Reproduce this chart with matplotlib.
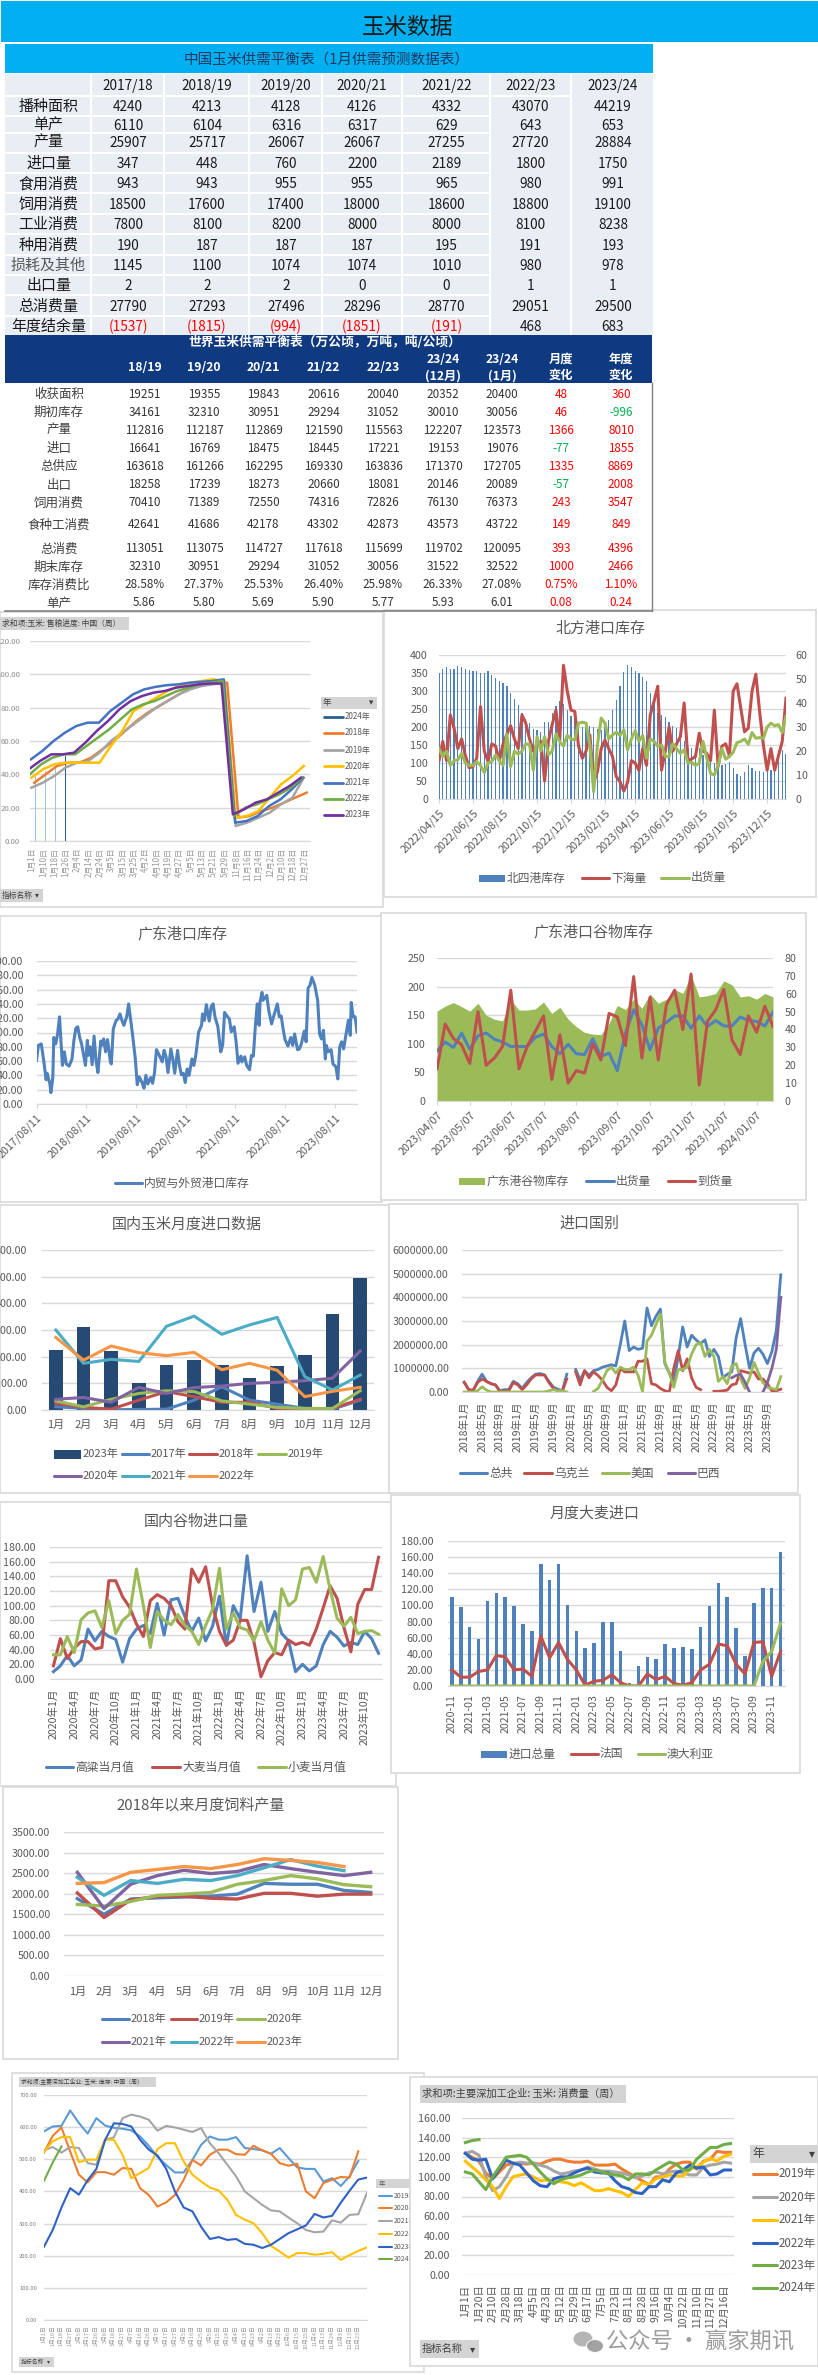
import numpy as np
import matplotlib
matplotlib.use('Agg')
import matplotlib.pyplot as plt
from matplotlib.patches import Rectangle, Ellipse

plt.rcParams['font.family'] = ['Noto Sans CJK SC', 'DejaVu Sans']

nan = float('nan')
W, H = 818, 2375

# 中国玉米供需平衡表
t1_years = ['2017/18', '2018/19', '2019/20', '2020/21', '2021/22', '2022/23', '2023/24']
t1_names = ['播种面积', '单产', '产量', '进口量', '食用消费', '饲用消费', '工业消费', '种用消费',
            '损耗及其他', '出口量', '总消费量', '年度结余量']
t1_rows = [
    ['4240', '4213', '4128', '4126', '4332', '43070', '44219'],
    ['6110', '6104', '6316', '6317', '629', '643', '653'],
    ['25907', '25717', '26067', '26067', '27255', '27720', '28884'],
    ['347', '448', '760', '2200', '2189', '1800', '1750'],
    ['943', '943', '955', '955', '965', '980', '991'],
    ['18500', '17600', '17400', '18000', '18600', '18800', '19100'],
    ['7800', '8100', '8200', '8000', '8000', '8100', '8238'],
    ['190', '187', '187', '187', '195', '191', '193'],
    ['1145', '1100', '1074', '1074', '1010', '980', '978'],
    ['2', '2', '2', '0', '0', '1', '1'],
    ['27790', '27293', '27496', '28296', '28770', '29051', '29500'],
    ['(1537)', '(1815)', '(994)', '(1851)', '(191)', '468', '683'],
]

# 世界玉米供需平衡表
t2_cols = ['18/19', '19/20', '20/21', '21/22', '22/23', '23/24\n(12月)', '23/24\n(1月)', '月度\n变化', '年度\n变化']
t2_names = ['收获面积', '期初库存', '产量', '进口', '总供应', '出口', '饲用消费', '食种工消费', '总消费',
            '期末库存', '库存消费比', '单产']
t2_rows = [
    ['19251', '19355', '19843', '20616', '20040', '20352', '20400', '48', '360'],
    ['34161', '32310', '30951', '29294', '31052', '30010', '30056', '46', '-996'],
    ['112816', '112187', '112869', '121590', '115563', '122207', '123573', '1366', '8010'],
    ['16641', '16769', '18475', '18445', '17221', '19153', '19076', '-77', '1855'],
    ['163618', '161266', '162295', '169330', '163836', '171370', '172705', '1335', '8869'],
    ['18258', '17239', '18273', '20660', '18081', '20146', '20089', '-57', '2008'],
    ['70410', '71389', '72550', '74316', '72826', '76130', '76373', '243', '3547'],
    ['42641', '41686', '42178', '43302', '42873', '43573', '43722', '149', '849'],
    ['113051', '113075', '114727', '117618', '115699', '119702', '120095', '393', '4396'],
    ['32310', '30951', '29294', '31052', '30056', '31522', '32522', '1000', '2466'],
    ['28.58%', '27.37%', '25.53%', '26.40%', '25.98%', '26.33%', '27.08%', '0.75%', '1.10%'],
    ['5.86', '5.80', '5.69', '5.90', '5.77', '5.93', '6.01', '0.08', '0.24'],
]

# 售粮进度
c1_dates = ['1月1日', '1月10日', '1月18日', '1月26日', '2月4日', '2月14日', '2月24日', '3月5日', '3月15日', '3月25日',
            '4月2日', '4月10日', '4月19日', '4月27日', '5月5日', '5月13日', '5月21日', '5月29日', '11月8日', '11月16日',
            '11月24日', '12月2日', '12月10日', '12月18日', '12月27日']
c1_2024 = [40, 42, 46, 51]
c1_2018 = [35, 40, 45, 47, 47, 50, 55, 60, 66, 72, 77, 81, 85, 89, 92, 94, 95, 95, 14, 15, 18, 20, 23, 26, 29]
c1_2019 = [32, 35, 39, 44, 47, 48, 53, 60, 65, 70, 75, 80, 84, 88, 91, 93, 94, 95, 9, 11, 14, 17, 22, 26, 38]
c1_2020 = [38, 43, 46, 47, 47, 47, 47, 57, 66, 78, 82, 86, 90, 93, 95, 96, 97, 96, 14, 15, 18, 26, 34, 39, 45]
c1_2021 = [49, 54, 60, 65, 69, 71, 71, 78, 83, 88, 91, 92.5, 93.5, 94, 95, 95.5, 96, 97, 11, 12, 15, 21, 25, 31, 38]
c1_2022 = [40, 46, 50, 52, 52, 57, 62, 67, 73, 79, 82, 84, 87, 90, 92, 94, 95, 96, 15, 20, 22, 25, 28, 32, 38]
c1_2023 = [43, 48, 52, 52, 53, 59, 66, 72, 79, 84, 87, 89, 90, 92, 93, 94, 94.5, 94.5, 16, 19, 23, 25, 29, 33, 38]

# 北方港口库存
c2_dates = ['2022/04/15', '2022/06/15', '2022/08/15', '2022/10/15', '2022/12/15', '2023/02/15', '2023/04/15',
            '2023/06/15', '2023/08/15', '2023/10/15', '2023/12/15']
c2_date_pos = [0, 9, 17, 26, 35, 44, 52, 61, 70, 78, 87]
c2_stock = [350, 362, 367, 362, 362, 370, 367, 362, 358, 356, 356, 351, 351, 356, 345, 336, 329, 322, 315, 294,
            278, 262, 240, 222, 210, 195, 192, 186, 215, 215, 238, 257, 271, 264, 248, 231, 225, 200, 201,
            206, 203, 199, 195, 192, 213, 220, 248, 276, 315, 353, 371, 366, 356, 350, 338, 329, 294, 271, 240,
            234, 229, 213, 203, 197, 187, 161, 141, 141, 113, 143, 122, 132, 109, 99, 97, 95, 97, 102, 87,
            70, 64, 76, 95, 87, 78, 78, 74, 78, 81, 81, 108, 136, 125]
c2_down = [16, 24, 16, 35, 29.5, 21, 25, 18, 13, 13.5, 17, 38.5, 20, 15.6, 23, 22, 16, 23, 27, 30.5,
           25, 21, 35, 31.6, 25, 20, 22.5, 24, 7.5, 24, 31, 37, 24.6, 55.7, 45, 37, 36.5, 22, 17, 20,
           26.7, 7, 11.4, 21, 24.6, 21, 17.7, 9.3, 7.2, 3.3, 7, 16, 15, 12, 21, 14, 35, 40.6, 47, 12,
           20, 30, 20, 23, 26, 40, 16, 16.7, 17.7, 27.4, 20, 19, 16, 37, 13.5, 22, 23, 18, 45, 48,
           38, 28, 29.5, 45, 52, 36.5, 22.5, 12, 21, 12, 18, 24, 42]
c2_out = [21, 17.7, 20, 14, 16, 16.3, 19, 15, 14, 14, 15.6, 14, 11, 15, 15.6, 18.4, 16, 14, 27, 13.5,
          20, 18.7, 20, 23, 22.8, 12, 26, 20, 26, 18.4, 20, 27, 24, 22, 26.5, 25, 24.6, 31.6, 32, 31.6,
          22.5, 3, 22.5, 33.7, 31.6, 25, 26.7, 27.8, 26.5, 28.8, 20.5, 25, 28.4, 24, 26.5, 17, 25, 24, 22, 22.5,
          17.7, 17.7, 23, 21, 19, 20.5, 15, 15.3, 14, 15, 24, 17, 10.7, 10, 14, 21, 16.6, 17.7, 19.5, 23.5,
          24, 25, 22.8, 27.7, 25.3, 25.6, 25.3, 30, 31.6, 30.5, 31, 27.7, 34.4]

# 广东港口库存
c3_dates = ['2017/08/11', '2018/08/11', '2019/08/11', '2020/08/11', '2021/08/11', '2022/08/11', '2023/08/11']
c3_date_pos = [0, 52, 104, 156, 207, 259, 311]
c3_week = [0, 2, 5, 8, 10, 11, 14, 15, 17, 18, 20, 22, 24, 26, 27, 29, 31, 34, 37, 39, 41, 43, 45, 47, 51, 53, 54, 56,
           58, 60, 62, 64, 67, 68, 70, 72, 74, 77, 78, 80, 83, 85, 87, 89, 91, 94, 96, 98, 100, 103, 105, 107, 110,
           112, 114, 116, 119, 121, 123, 125, 128, 131, 133, 135, 137, 140, 142, 144, 147, 149, 151, 153, 155, 157,
           159, 162, 164, 166, 169, 172, 173, 175, 177, 180, 182, 184, 186, 189, 192, 194, 196, 198, 201, 203, 206,
           208, 210, 213, 214, 217, 219, 222, 224, 226, 228, 230, 232, 233, 235, 236, 240, 242, 245, 247, 251, 253,
           255, 257, 259, 262, 265, 267, 269, 272, 274, 276, 279, 281, 283, 285, 287, 290, 293, 295, 297, 299, 301,
           302, 304, 307, 309, 312, 314, 316, 318, 320, 323, 325, 327, 328, 330, 332, 334]
c3_stock = [61, 82, 84, 56, 34, 43, 28, 16, 37, 93, 84, 98, 122, 75, 54, 73, 56, 53, 63, 89, 106, 108, 93, 84, 54, 89, 68, 80,
            55, 95, 61, 44, 88, 82, 91, 73, 90, 59, 56, 105, 117, 119, 126, 117, 110, 122, 140, 119, 98, 63, 27, 38, 30,
            22, 40, 28, 37, 29, 44, 76, 68, 59, 75, 66, 44, 77, 63, 43, 75, 54, 41, 43, 30, 49,
            40, 63, 54, 68, 101, 110, 126, 117, 139, 116, 136, 140, 122, 108, 73, 82, 128, 124, 119, 101, 108,
            87, 57, 67, 59, 66, 54, 48, 68, 67, 108, 140, 110, 143, 156, 145, 152, 131, 112, 122, 140, 122,
            123, 105, 90, 81, 93, 82, 98, 76, 77, 84, 102, 87, 162, 166, 177, 166, 145, 98, 91, 103, 63,
            82, 73, 76, 56, 52, 35, 80, 87, 77, 101, 117, 96, 142, 122, 122, 101]

# 广东港口谷物库存
c4_dates = ['2023/04/07', '2023/05/07', '2023/06/07', '2023/07/07', '2023/08/07', '2023/09/07', '2023/10/07',
            '2023/11/07', '2023/12/07', '2024/01/07']
c4_date_pos = [0, 4, 9, 13, 17, 22, 26, 31, 35, 39]
c4_stock = [157, 166, 172, 165, 157, 171, 150, 143, 140, 177, 159, 159, 161, 173, 153, 164, 143, 130, 120, 117, 116,
            136, 167, 160, 178, 162, 187, 171, 178, 195, 188, 220, 182, 184, 188, 210, 203, 182, 184, 178, 188, 182]
c4_out = [28, 33, 30, 38, 29, 36.5, 38, 34.6, 33, 30.5, 30.5, 30.5, 35.7, 37.4, 30.5, 26.4, 31.8, 26.4, 26, 34.8, 25,
          26.8, 17, 38, 51, 42.6, 28.6, 40.7, 44, 47.6, 47.6, 40.7, 47.6, 41.7, 45, 42, 42, 47, 45, 44.5, 42, 49.7]
c4_in = [18, 43, 35, 31.4, 21, 50, 20, 24, 30.5, 62, 18, 30.5, 39, 47.6, 12, 37, 10, 17, 15.6, 32, 23,
         49, 47, 31, 69.6, 24, 58, 23, 54, 62, 40, 71, 9, 44.5, 51, 62.5, 34, 26, 47.6, 38.5, 53, 41.7]

# 国内玉米月度进口数据
months = ['1月', '2月', '3月', '4月', '5月', '6月', '7月', '8月', '9月', '10月', '11月', '12月']
c5_2023 = [225, 310, 221, 101, 169, 187, 169, 120, 165, 206, 360, 494]
c5_2017 = [12, 6, 1, 2, 3, 37, 87, 37, 22, 6, 3, 37]
c5_2018 = [25, 10, 3, 37, 69, 50, 29, 29, 6, 3, 6, 40]
c5_2019 = [34, 12, 40, 62, 72, 69, 34, 22, 10, 6, 6, 72]
c5_2020 = [40, 47, 29, 85, 62, 84, 90, 100, 104, 110, 119, 221]
c5_2021 = [300, 175, 190, 182, 314, 352, 284, 319, 347, 125, 75, 131]
c5_2022 = [272, 187, 240, 215, 204, 216, 151, 175, 149, 50, 70, 85]

# 进口国别 (百万)
c6_ticks = ['2018年1月', '2018年5月', '2018年9月', '2019年1月', '2019年5月', '2019年9月', '2020年1月', '2020年5月', '2020年9月',
            '2021年1月', '2021年5月', '2021年9月', '2022年1月', '2022年5月', '2022年9月', '2023年1月', '2023年5月', '2023年9月']
c6_total = [.40, .10, .05, .45, .75, .45, .35, .30, .05, .10, .10, .45,
            .35, .15, .40, .60, .75, .78, .72, .45, .20, .12, .05, .75,
            nan, .95, .50, .90, .70, .90, .95, 1.05, 1.10, 1.15, 1.10, 2.00,
            3.00, 1.75, 1.90, 1.80, 1.85, 3.55, 2.80, 3.20, 3.50, 1.20, .80, .40,
            1.50, 2.75, 1.90, 2.40, 2.20, 2.05, 2.20, 1.50, 1.80, 1.50, .60, .75,
            .85, 2.30, 3.10, 2.00, 1.00, 1.65, 1.85, 1.60, 1.20, 1.70, 2.60, 4.95]
c6_ukr = [.42, .10, .08, .40, .55, .45, .35, .30, .02, .05, .05, .40,
          .30, .10, .30, .55, .72, .72, .72, .40, .15, .05, .02, .55,
          nan, .85, .30, .90, .60, .85, .70, .50, .20, .05, .30, 1.00,
          .85, .85, .85, 1.30, 1.30, 1.40, .35, .30, .15, .05, .00, 1.00,
          1.75, .90, 1.40, .60, .20, .10, nan, nan, .03, .03, .05, .08,
          .30, .35, .90, .85, .80, .85, .55, .55, .35, .05, .05, .12]
c6_usa = [0, 0, 0, .05, .22, .08, 0, 0, 0, 0, 0, 0,
          0, 0, 0, 0, 0, 0, 0, .05, .10, .05, .05, 0,
          nan, nan, nan, nan, nan, .02, .15, .50, .90, 1.05, .80, 1.05,
          .95, .95, 1.05, .70, 0, 2.15, 2.40, 2.85, 3.30, 1.25, .80, .20,
          .95, .95, 1.05, 1.60, 2.00, 2.10, 1.50, 1.80, 1.50, .45, .65, .35,
          1.10, 1.20, .55, .15, .60, 1.25, .80, .40, .20, .15, .10, .65]
c6_bra = [nan] * 60 + [.60, .70, .75, .40, 0, nan, nan, 0, .40, 1.00, 1.80, 4.00]

# 国内谷物进口量
c7_ticks = ['2020年1月', '2020年4月', '2020年7月', '2020年10月', '2021年1月', '2021年4月', '2021年7月', '2021年10月',
            '2022年1月', '2022年4月', '2022年7月', '2022年10月', '2023年1月', '2023年4月', '2023年7月', '2023年10月']
c7_sorghum = [10, 18, 32, 18, 26, 68, 52, 65, 58, 54, 23, 55, 68, 73, 62, 103, 60, 108, 110, 85, 65, 83, 52, 72,
              113, 46, 100, 82, 168, 92, 132, 65, 92, 62, 52, 10, 20, 11, 18, 47, 65, 57, 45, 50, 47, 65, 55, 35]
c7_barley = [18, 55, 28, 42, 51, 51, 41, 43, 134, 134, 112, 98, 75, 58, 107, 115, 110, 100, 78, 68, 150, 132, 153, 100,
             65, 46, 53, 80, 80, 50, 3, 25, 36, 33, 53, 47, 50, 46, 68, 97, 127, 110, 70, 37, 102, 122, 122, 166]
c7_wheat = [33, 33, 58, 36, 81, 90, 93, 70, 107, 62, 80, 88, 150, 100, 43, 92, 80, 74, 88, 73, 65, 47, 73, 95,
            151, 68, 90, 70, 67, 52, 78, 53, 35, 123, 100, 108, 150, 152, 132, 167, 122, 83, 72, 84, 62, 65, 66, 61]

# 月度大麦进口
c8_ticks = ['2020-11', '2021-01', '2021-03', '2021-05', '2021-07', '2021-09', '2021-11', '2022-01', '2022-03', '2022-05',
            '2022-07', '2022-09', '2022-11', '2023-01', '2023-03', '2023-05', '2023-07', '2023-09', '2023-11']
c8_total = [110, 98, 73, 58, 106, 115, 110, 99, 77, 68, 151, 131, 152, 101, 68, 47, 54, 79, 79, 43, 4, 25, 36, 33, 52, 47,
            49, 46, 73, 99, 128, 111, 72, 37, 103, 122, 122, 166]
c8_france = [20, 11, 11, 18, 20, 38, 36, 20, 21, 12, 62, 35, 54, 33, 20, 1, 6, 7, 14, 4, 0, 0, 15, 8, 12, 3, 1, 4, 20,
             27, 52, 50, 27, 15, 54, 55, 12, 43]
c8_aus = [0] * 34 + [0, 30, 43, 78]

# 2018年以来月度饲料产量
c9_2018 = [1880, 1500, 1870, 1900, 1920, 1940, 1990, 2250, 2230, 2230, 2080, 2030]
c9_2019 = [2020, 1420, 1850, 1930, 1940, 1890, 1870, 2010, 2010, 1940, 1990, 1990]
c9_2020 = [1740, 1700, 1810, 1960, 1990, 2030, 2230, 2320, 2440, 2360, 2220, 2170]
c9_2021 = [2520, 1640, 2230, 2440, 2570, 2490, 2540, 2710, 2610, 2520, 2440, 2520]
c9_2022 = [2400, 1960, 2320, 2250, 2350, 2320, 2440, 2630, 2830, 2670, 2560, nan]
c9_2023 = [2250, 2270, 2520, 2590, 2660, 2610, 2710, 2850, 2810, 2760, 2660, nan]

# 深加工库存
c10_dates = ['1月1日', '1月10日', '1月18日', '1月27日', '2月5日', '2月17日', '2月26日', '3月8日', '3月18日', '3月27日', '4月7日',
             '4月16日', '4月26日', '5月7日', '5月17日', '5月27日', '6月5日', '6月16日', '6月25日', '7月5日', '7月15日', '7月24日',
             '8月4日', '8月13日', '8月23日', '9月2日', '9月13日', '9月23日', '10月6日', '10月15日', '10月25日', '11月4日',
             '11月13日', '11月24日', '12月3日', '12月13日', '12月23日']
c10_2019 = [587, 602, 604, 652, 613, 580, 628, 605, 598, 595, 590, 571, 542, 507, 482, 459, 459, 498, 545, 571, 561, 561,
            569, 535, 532, 528, 517, 535, 504, 475, 470, 470, 431, 441, 417, 447, 495]
c10_2020 = [521, 573, 599, 524, 452, 428, 460, 460, 452, 473, 470, 410, 389, 353, 366, 389, 436, 498, 481, 514, 530, 530,
            516, 514, 542, 528, 517, 488, 480, 486, 400, 379, 426, 436, 445, 443, 525]
c10_2021 = [528, 538, 521, 538, 535, 488, 483, 561, 568, 628, 639, 633, 623, 589, 604, 599, 592, 585, 597, 550, 519, 483,
            447, 400, 379, 358, 341, 338, 319, 301, 280, 273, 275, 310, 303, 327, 329, 395, 441]
c10_2022 = [524, 556, 569, 569, 491, 499, 499, 561, 561, 514, 441, 457, 473, 532, 550, 550, 493, 452, 431, 412, 403, 374,
            327, 312, 301, 270, 231, 213, 194, 208, 208, 203, 206, 211, 187, 202, 215, 226]
c10_2023 = [228, 280, 350, 410, 390, 435, 470, 560, 612, 610, 602, 561, 530, 512, 470, 400, 350, 338, 290, 252, 258, 249,
            252, 237, 234, 224, 234, 252, 270, 282, 294, 330, 319, 324, 365, 402, 437, 443]
c10_2024 = [433, 490, 540]

# 深加工消费量
c11_dates = ['1月1日', '1月20日', '2月10日', '2月28日', '3月18日', '4月5日', '4月23日', '5月12日', '5月29日', '6月17日', '7月5日',
             '7月23日', '8月11日', '8月28日', '9月16日', '10月4日', '10月22日', '11月10日', '11月27日', '12月16日']
c11_2019 = [124, 120, 116, 104, 98, 105, 112, 114, 114, 113, 114, 113, 116, 118, 118, 116, 115, 115, 116, 112,
            112, 112, 113, 108, 104, 100, 96, 92, 100, 100, 108, 113, 115, 115, 108, 116, 118, 126, 125, 125]
c11_2020 = [124, 126, 122, 100, 86, 90, 100, 113, 115, 114, 114, 112, 110, 106, 103, 104, 106, 107, 110, 108,
            106, 106, 105, 104, 102, 99, 101, 104, 105, 103, 105, 106, 104, 102, 102, 110, 112, 113, 115, 114]
c11_2021 = [116, 110, 104, 97, 90, 78, 90, 100, 102, 103, 100, 96, 97, 96, 95, 94, 91, 94, 90, 86,
            86, 88, 86, 84, 80, 87, 94, 92, 98, 100, 102, 101, 101, 108, 110, 115, 119, 116, 121, 123]
c11_2022 = [124, 118, 117, 118, 98, 108, 117, 114, 112, 104, 96, 91, 90, 98, 100, 100, 104, 107, 109, 105,
            104, 104, 96, 90, 88, 84, 83, 90, 90, 97, 95, 104, 107, 112, 109, 110, 102, 103, 107, 107]
c11_2023 = [105, 103, 95, 87, 100, 110, 120, 121, 122, 120, 113, 105, 98, 93, 97, 99, 100, 102, 105, 107,
            105, 103, 102, 101, 97, 103, 103, 102, 107, 111, 115, 113, 107, 107, 118, 124, 130, 130, 133, 134]
c11_2024 = [135, 137, 138]

BLUE, RED, GREEN, PURPLE, TEAL, ORANGE = '#4F81BD', '#C0504D', '#9BBB59', '#8064A2', '#4BACC6', '#F79646'
GRID = '#D9D9D9'
TXT = '#595959'

fig = plt.figure(figsize=(W / 100, H / 100), dpi=100, facecolor='white')
bg = fig.add_axes([0, 0, 1, 1], zorder=0)
bg.set_xlim(0, W)
bg.set_ylim(H, 0)
bg.axis('off')
fg = fig.add_axes([0, 0, 1, 1], zorder=20)
fg.set_xlim(0, W)
fg.set_ylim(H, 0)
fg.axis('off')


def rect(x0, y0, x1, y1, fc='none', ec='none', lw=1, z=1, a=bg):
    a.add_patch(Rectangle((x0, y0), x1 - x0, y1 - y0, fc=fc, ec=ec, lw=lw, zorder=z))


def label(x, y, s, size=8, color=TXT, ha='left', z=6, weight='normal', a=bg):
    a.text(x, y, s, fontsize=size, color=color, ha=ha, va='center', zorder=z, fontweight=weight,
           linespacing=1.35)


def box(x0, y0, x1, y1):
    ax = fig.add_axes([x0 / W, 1 - y1 / H, (x1 - x0) / W, (y1 - y0) / H], zorder=5)
    ax.patch.set_alpha(0)
    for s in ax.spines.values():
        s.set_visible(False)
    ax.spines['bottom'].set_visible(True)
    ax.spines['bottom'].set_color(GRID)
    ax.grid(axis='y', color=GRID, lw=1)
    ax.set_axisbelow(True)
    return ax


def ystyle(ax, ticks, fmt, size=7.7, pad=8, color=TXT):
    ax.set_yticks(ticks)
    ax.set_yticklabels([fmt % t for t in ticks])
    ax.set_ylim(ticks[0], ticks[-1])
    ax.tick_params(axis='y', length=0, labelsize=size, pad=pad, labelcolor=color)


def xstyle(ax, pos, labs, size=7.7, pad=7, rot=0, mark=False, color=TXT):
    ax.set_xticks(pos)
    ax.set_xticklabels(labs, rotation=rot)
    ax.tick_params(axis='x', length=3 if mark else 0, color=GRID, labelsize=size, pad=pad, labelcolor=color)
    if rot == 45:
        for t in ax.get_xticklabels():
            t.set_ha('right')
            t.set_rotation_mode('anchor')


def leg_line(x0, x1, y, color, text, size=8.5, lw=2.2, z=6):
    bg.plot([x0, x1], [y, y], color=color, lw=lw, solid_capstyle='round', zorder=z)
    label(x1 + 2, y, text, size=size, z=z)


def leg_patch(x0, x1, y, color, text, size=8.5, h=7):
    rect(x0, y - h / 2, x1, y + h / 2, fc=color, z=6)
    label(x1 + 2, y, text, size=size)


def button(x0, y0, x1, y1, text, size=5.5, ha='left', arrow=False):
    rect(x0, y0, x1, y1, fc='#D4D4D4', z=6)
    tx = x0 + 2 if ha == 'left' else (x0 + x1) / 2
    label(tx, (y0 + y1) / 2, text, size=size, color='#404040', ha=ha, z=7)
    if arrow:
        label(x1 - 6, (y0 + y1) / 2, '▾', size=size, color='#404040', ha='center', z=7)


# chart frames
frames = [(0, 612, 383, 907), (384, 610, 816, 897), (0, 916, 382, 1202), (381, 913, 806, 1200),
          (0, 1205, 389, 1493), (389, 1204, 798, 1493), (0, 1502, 396, 1786), (391, 1495, 800, 1773),
          (3, 1787, 398, 2059), (12, 2073, 424, 2372)]
for f in frames:
    rect(f[0], f[1], f[2], f[3], fc='white', ec=GRID, lw=1.2, z=1)
rect(410, 2077, 818, 2366, fc='white', ec=GRID, lw=1.2, z=3)

# 顶部标题
rect(1, 1, W, 42, fc='#00B0F0', z=2)
label(408, 28, '玉米数据', size=16.5, color='#1A1A1A', ha='center')

# 表一
t1_edges = [5, 91, 164, 249, 322, 402, 490, 571, 653]
t1_lines = [74, 96, 116, 133, 153, 173, 193, 214, 234, 255, 275, 295, 316, 335]
t1_cx = [128, 207, 286, 362, 446.5, 530.5, 613]
t1_cy = [86, 107, 126, 143, 164, 184, 205, 225, 246, 266, 286, 307, 327]
rect(5, 44, 653, 73, fc='#00B0F0', z=2)
label(327, 60, '中国玉米供需平衡表（1月供需预测数据表）', size=10.5, color='#1F3864', ha='center')
rect(5, 74, 653, 335, fc='#E9EDF4', z=2)
for xe in t1_edges[1:-1]:
    bg.plot([xe, xe], [74, 335], color='white', lw=1.5, zorder=3)
for ye in t1_lines[1:-1]:
    bg.plot([5, 490], [ye, ye], color='white', lw=1.5, zorder=3)
bg.plot([490, 571], [96, 96], color='white', lw=1.5, zorder=3)
for x, s in zip(t1_cx, t1_years):
    label(x, t1_cy[0], s, size=9.8, color='#1A1A1A', ha='center')
for k, name in enumerate(t1_names):
    y = t1_cy[k + 1]
    label(48.5, y, name, size=10.8, color='#1A1A1A' if name != '损耗及其他' else '#595959', ha='center')
    for x, s in zip(t1_cx, t1_rows[k]):
        col = '#FF0000' if s.startswith('(') else '#1A1A1A'
        label(x, y, s, size=9.8, color=col, ha='center')

# 表二
t2_cx = [144.5, 204, 263.4, 323.4, 383, 443, 502, 561, 621]
t2_cy = [394, 412, 430, 448, 466, 485, 503, 525, 549, 567, 585, 603]
rect(5, 335, 652, 383, fc='#0F3A80', z=4)
label(325, 342, '世界玉米供需平衡表（万公顷，万吨，吨/公顷）', size=9.2, color='white', ha='center', weight='bold')
for x, s in zip(t2_cx, t2_cols):
    label(x, 367.5, s, size=8.8, color='white', ha='center', weight='bold')
for k, name in enumerate(t2_names):
    y = t2_cy[k]
    label(59, y, name, size=9, color='#404040', ha='center')
    for j, s in enumerate(t2_rows[k]):
        col = '#333333'
        if j >= 7:
            col = '#00B050' if s.startswith('-') else '#FF0000'
        label(t2_cx[j], y, s, size=8.4, color=col, ha='center')
bg.plot([652, 652], [383, 611], color='#808080', lw=1, zorder=4)
bg.plot([5, 652], [611, 611], color='#808080', lw=1.2, zorder=4)

# 图1 售粮进度
ax = box(30, 641, 310, 841)
i1 = np.arange(25)
for vals, col, sh in [(c1_2018, '#ED7D31', .2), (c1_2019, '#A5A5A5', -.05), (c1_2020, '#FFC000', -.05),
                      (c1_2021, '#4472C4', -.1), (c1_2022, '#70AD47', -.2), (c1_2023, '#7030A0', -.3)]:
    ax.plot(i1 + sh, vals, color=col, lw=1.8)
ax.bar(np.arange(4) * .87 + .3, c1_2024, width=.09, color=['#9DC3E6', '#9DC3E6', '#9DC3E6', '#255E91'])
ax.set_xlim(-.18, 24.5)
ystyle(ax, [0, 20, 40, 60, 80, 100, 120], '%.2f', size=5.6, pad=7, color='#8C8C8C')
xstyle(ax, i1, c1_dates, size=5.7, pad=5, rot=90, color='#9A9A9A')
button(0, 617, 129, 630, '求和项:玉米: 售粮进度: 中国（周）', size=5.6)
button(321, 697, 377, 709, '年', size=6.2, arrow=True)
button(0, 889, 43, 902, '指标名称', size=5.6, arrow=True)
c1_leg = [('2024年', '#255E91'), ('2018年', '#ED7D31'), ('2019年', '#A5A5A5'), ('2020年', '#FFC000'),
          ('2021年', '#4472C4'), ('2022年', '#70AD47'), ('2023年', '#7030A0')]
for yy, (s, col) in zip([717, 733, 750, 766, 783, 799, 815], c1_leg):
    leg_line(324, 343, yy, col, s, size=5.8, lw=2)

# 图2 北方港口库存
ax = box(439, 655, 786, 799)
i2 = np.arange(len(c2_stock))
ax.bar(i2, c2_stock, width=.33, color=BLUE)
ax.set_xlim(0, 92)
ystyle(ax, [0, 50, 100, 150, 200, 250, 300, 350, 400], '%d', pad=8)
xstyle(ax, c2_date_pos, c2_dates, size=7.8, pad=3, rot=45, mark=True)
ar = ax.twinx()
for s in ar.spines.values():
    s.set_visible(False)
ar.plot(np.arange(len(c2_down)), c2_down, color=RED, lw=2.2)
ar.plot(np.arange(len(c2_out)), c2_out, color=GREEN, lw=2.2)
ystyle(ar, [0, 10, 20, 30, 40, 50, 60], '%d', pad=7)
label(600, 629, '北方港口库存', size=10.8, ha='center')
leg_patch(479, 505, 878, BLUE, '北四港库存')
leg_line(582, 609, 878, RED, '下海量')
leg_line(661, 689, 878, GREEN, '出货量')

# 图3 广东港口库存
ax = box(36.5, 961, 357, 1104)
ax.plot(c3_week, c3_stock, color=BLUE, lw=2.2)
ax.set_xlim(0, 334)
ystyle(ax, list(range(0, 201, 20)), '%.2f', pad=9.7)
xstyle(ax, c3_date_pos, c3_dates, size=7.8, pad=3, rot=45, mark=True)
label(182.6, 934, '广东港口库存', size=10.8, ha='center')
leg_line(115, 142, 1183, BLUE, '内贸与外贸港口库存')

# 图4 广东港口谷物库存
ax = box(437, 958, 773, 1101)
i4 = np.arange(len(c4_stock))
ax.fill_between(i4, c4_stock, color=GREEN, lw=0)
ax.set_xlim(0, 41)
ystyle(ax, [0, 50, 100, 150, 200, 250], '%d', pad=8.6)
xstyle(ax, c4_date_pos, c4_dates, size=7.8, pad=3, rot=45, mark=True)
ar = ax.twinx()
for s in ar.spines.values():
    s.set_visible(False)
ar.plot(i4, c4_out, color=BLUE, lw=2.2)
ar.plot(i4, c4_in, color=RED, lw=2.2)
ystyle(ar, [0, 10, 20, 30, 40, 50, 60, 70, 80], '%d', pad=8.6)
label(593, 932, '广东港口谷物库存', size=10.8, ha='center')
leg_patch(459, 485, 1181, GREEN, '广东港谷物库存')
leg_line(586, 614, 1181, BLUE, '出货量')
leg_line(668, 695, 1181, RED, '到货量')

# 图5 国内玉米月度进口数据
ax = box(42, 1250, 374, 1410)
i5 = np.arange(12)
ax.bar(i5, c5_2023, width=.5, color='#264A73')
for vals, col in [(c5_2017, BLUE), (c5_2018, RED), (c5_2019, GREEN), (c5_2020, PURPLE), (c5_2021, TEAL), (c5_2022, ORANGE)]:
    ax.plot(i5, vals, color=col, lw=2.2)
ax.set_xlim(-.5, 11.5)
ystyle(ax, [0, 100, 200, 300, 400, 500, 600], '%.2f', pad=10.8)
xstyle(ax, i5, months, size=8, pad=7)
label(187, 1225, '国内玉米月度进口数据', size=10.8, ha='center')
leg_patch(54, 81, 1454, '#264A73', '2023年', size=8, h=9)
leg_line(121.5, 149, 1454, BLUE, '2017年', size=8)
leg_line(189, 216.5, 1454, RED, '2018年', size=8)
leg_line(258, 286, 1454, GREEN, '2019年', size=8)
leg_line(54, 81, 1476, PURPLE, '2020年', size=8)
leg_line(121.5, 149, 1476, TEAL, '2021年', size=8)
leg_line(189, 216.5, 1476, ORANGE, '2022年', size=8)

# 图6 进口国别
ax = box(462, 1250, 783, 1392)
i6 = np.arange(72)
for vals, col in [(c6_total, BLUE), (c6_ukr, RED), (c6_usa, GREEN), (c6_bra, PURPLE)]:
    ax.plot(i6, np.array(vals) * 1e6, color=col, lw=2)
ax.set_xlim(-.5, 71.5)
ystyle(ax, [0, 1000000, 2000000, 3000000, 4000000, 5000000, 6000000], '%.2f', pad=9.6)
xstyle(ax, np.arange(0, 72, 4), c6_ticks, size=7.6, pad=7, rot=90)
label(589.5, 1224, '进口国别', size=10.8, ha='center')
leg_line(460, 487, 1473, BLUE, '总共')
leg_line(524, 552, 1473, RED, '乌克兰')
leg_line(602, 629, 1473, GREEN, '美国')
leg_line(668, 695, 1473, PURPLE, '巴西')

# 图7 国内谷物进口量
ax = box(50, 1547, 382, 1679)
i7 = np.arange(48)
for vals, col in [(c7_sorghum, BLUE), (c7_barley, RED), (c7_wheat, GREEN)]:
    ax.plot(i7, vals, color=col, lw=2.2)
ax.set_xlim(-.5, 47.5)
ystyle(ax, list(range(0, 181, 20)), '%.2f', pad=10.8)
xstyle(ax, np.arange(0, 48, 3), c7_ticks, size=7.6, pad=7, rot=90)
label(196, 1522, '国内谷物进口量', size=10.8, ha='center')
leg_line(46, 73, 1767, BLUE, '高粱当月值')
leg_line(152, 180, 1767, RED, '大麦当月值')
leg_line(258, 286, 1767, GREEN, '小麦当月值')

# 图8 月度大麦进口
ax = box(447.5, 1541, 785, 1686)
i8 = np.arange(38)
ax.bar(i8, c8_total, width=.4, color=BLUE)
ax.plot(i8, c8_france, color=RED, lw=2.2)
ax.plot(i8, c8_aus, color=GREEN, lw=2.2)
ax.set_xlim(-.5, 37.5)
ystyle(ax, list(range(0, 181, 20)), '%.2f', pad=10.4)
xstyle(ax, np.arange(0, 38, 2), c8_ticks, size=7.6, pad=6, rot=90)
label(595, 1514, '月度大麦进口', size=10.8, ha='center')
leg_patch(481, 507, 1754, BLUE, '进口总量')
leg_line(571, 598, 1754, RED, '法国')
leg_line(637.5, 664.5, 1754, GREEN, '澳大利亚')

# 图9 饲料产量
ax = box(64, 1832, 384, 1976)
i9 = np.arange(12)
for vals, col in [(c9_2018, BLUE), (c9_2019, RED), (c9_2020, GREEN), (c9_2021, PURPLE), (c9_2022, TEAL), (c9_2023, ORANGE)]:
    ax.plot(i9, vals, color=col, lw=2.4)
ax.set_xlim(-.5, 11.5)
ystyle(ax, list(range(0, 3501, 500)), '%.2f', pad=10)
ax.spines['bottom'].set_visible(False)
xstyle(ax, i9, months, size=8, pad=8)
label(201, 1806, '2018年以来月度饲料产量', size=10.8, ha='center')
for x0, x1, y, col, s in [(102, 129, 2019, BLUE, '2018年'), (171, 197, 2019, RED, '2019年'), (237, 265, 2019, GREEN, '2020年'),
                          (102, 129, 2042, PURPLE, '2021年'), (171, 197, 2042, TEAL, '2022年'), (237, 265, 2042, ORANGE, '2023年')]:
    leg_line(x0, x1, y, col, s, size=8)

# 图10 深加工库存
ax = box(44, 2095, 367, 2320)
i10 = np.arange(37)
for vals, col in [(c10_2019, '#5B9BD5'), (c10_2020, '#ED7D31'), (c10_2021, '#A5A5A5'), (c10_2022, '#FFC000'),
                  (c10_2023, '#2F62C4'), (c10_2024, '#70AD47')]:
    ax.plot(np.arange(len(vals)), vals, color=col, lw=1.5)
ax.set_xlim(0, 37)
ystyle(ax, list(range(0, 701, 100)), '%.2f', size=4.2, pad=5, color='#7F7F7F')
xstyle(ax, i10, c10_dates, size=4.1, pad=4, rot=90, color='#9A9A9A')
button(19, 2077, 156, 2087, '求和项:主要深加工企业: 玉米: 库存: 中国（周）', size=4.2)
button(19, 2357, 54, 2367, '指标名称', size=4.2, arrow=True)
rect(376, 2179, 412, 2188, fc='#D4D4D4', z=2)
label(379, 2183.5, '年', size=4.5, z=2)
for yy, (s, col) in zip([2196, 2208, 2221, 2234, 2247, 2259],
                        [('2019年', '#5B9BD5'), ('2020年', '#ED7D31'), ('2021年', '#A5A5A5'),
                         ('2022年', '#FFC000'), ('2023年', '#2F62C4'), ('2024年', '#70AD47')]):
    leg_line(379, 392, yy, col, s, size=5, lw=1.5, z=2)

# 图11 深加工消费量
ax = box(462, 2118, 734, 2275)
i11 = np.arange(40)
for vals, col in [(c11_2019, '#ED7D31'), (c11_2020, '#A5A5A5'), (c11_2021, '#FFC000'), (c11_2022, '#2F62C4'),
                  (c11_2023, '#70AD47'), (c11_2024, '#70AD47')]:
    ax.plot(np.arange(len(vals)), vals, color=col, lw=2.2)
ax.set_xlim(-.5, 39.5)
ystyle(ax, list(range(0, 161, 20)), '%.2f', pad=8.6)
ax.spines['bottom'].set_visible(False)
xstyle(ax, np.arange(0, 40, 2), c11_dates, size=7.4, pad=7, rot=90)
button(420, 2085, 626, 2103, '求和项:主要深加工企业: 玉米: 消费量（周）', size=7.4)
button(420, 2340, 479, 2358, '指标名称', size=7.4, arrow=True)
button(750, 2145, W, 2163, '年', size=8.5, arrow=True)
for yy, (s, col) in zip([2174, 2197, 2220, 2243, 2265, 2288],
                        [('2019年', '#ED7D31'), ('2020年', '#A5A5A5'), ('2021年', '#FFC000'),
                         ('2022年', '#2F62C4'), ('2023年', '#70AD47'), ('2024年', '#70AD47')]):
    leg_line(753, 777, yy, col, s, size=8.3)

# 水印
fg.add_patch(Ellipse((583, 2339), 19, 15, fc='#A8A8A8', ec='none', alpha=.85))
fg.add_patch(Ellipse((595, 2346), 17, 13, fc='#989898', ec='white', lw=.8, alpha=.9))
fg.text(700, 2342, '公众号 · 赢家期讯', fontsize=16, color='#8C8C8C', ha='center', va='center', alpha=.85)

fig.savefig('out.png', dpi=100, facecolor='white')
